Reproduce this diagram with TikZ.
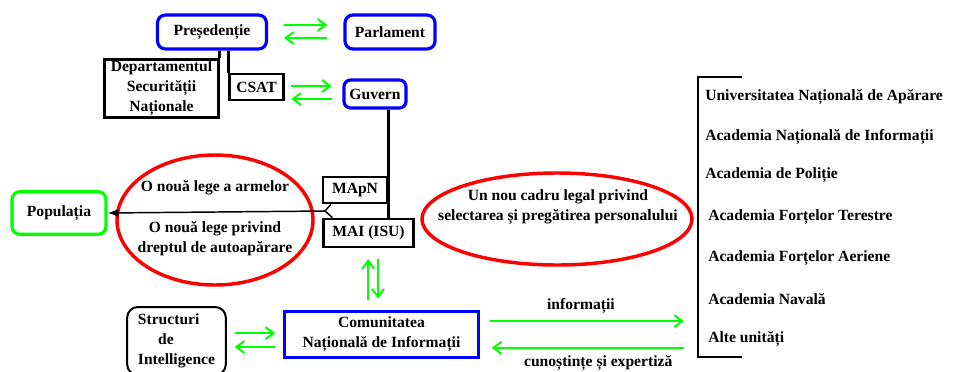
\documentclass[tikz,border=0pt]{standalone}
\usepackage{fontspec}
\setmainfont{Liberation Serif}
\usetikzlibrary{arrows.meta,shapes.geometric}
\tikzset{
	bluebox/.style={draw=blue,line width=2.4pt,rounded corners=6pt,inner sep=0pt},
	blackbox/.style={draw=black,line width=2.2pt,inner sep=0pt},
	redoval/.style={draw=red,line width=2.6pt,ellipse,inner sep=0pt},
	garrow/.style={draw=green,line width=1.5pt,-{Straight Barb[length=6pt,width=9pt]}},
	stem/.style={line width=2.2pt},
}
\begin{document}
\begin{tikzpicture}[x=0.75pt,y=-0.75pt,>={Latex[length=8pt,width=6pt]},
	every node/.style={font=\bfseries\fontsize{11.7}{15}\selectfont}]
	\useasboundingbox (0,0) rectangle (955,371);
	\clip (0,0) rectangle (955,371);
	% top row
	\node[bluebox,minimum width=81.75pt,minimum height=25.5pt] (pres) at (212,32) {Președenție};
	\node[bluebox,minimum width=67.5pt,minimum height=25.5pt] (parl) at (390,32) {Parlament};
	\node[bluebox,minimum width=46.5pt,minimum height=21pt,rounded corners=5pt] (guv) at (375,94) {Guvern};
	\node[blackbox,minimum width=40pt,minimum height=19.5pt] (csat) at (256.5,87) {CSAT};
	\node[blackbox,minimum width=85pt,minimum height=44pt,align=center] (dsn) at (161.5,88.5) {Departamentul\\Securității\\Naționale};
	\draw[garrow,shorten <=12pt,shorten >=12pt] ([yshift=5.25pt]pres.east) -- ([yshift=5.25pt]parl.west);
	\draw[garrow,shorten <=12pt,shorten >=12pt] ([yshift=-4.5pt]parl.west) -- ([yshift=-4.5pt]pres.east);
	\draw[garrow,shorten <=5pt,shorten >=8pt] ([yshift=0.75pt]csat.east) -- ([yshift=6pt]guv.west);
	\draw[garrow,shorten <=8pt,shorten >=5pt] ([yshift=-3.75pt]guv.west) -- ([yshift=-9pt]csat.east);
	\draw[stem] (dsn.north east) -- (dsn.north east |- pres.south);
	\draw[stem] (csat.north west) -- (csat.north west |- pres.south);
	% ministries
	\node[blackbox,minimum width=48pt,minimum height=19.5pt] (mapn) at (355,190) {MApN};
	\node[blackbox,minimum width=68pt,minimum height=21pt] (mai) at (368.5,233) {MAI (ISU)};
	\draw[stem] (mapn.east |- guv.south) -- (mapn.east |- mai.north);
	% population and laws
	\node[draw=green,line width=2.4pt,rounded corners=6pt,minimum width=70.5pt,minimum height=32pt] (pop) at (59,213) {Populația};
	\node[redoval,minimum width=147pt,minimum height=97.5pt] (legi) at (215,220) {};
	\node (arme) at (215,188) {O nouă lege a armelor};
	\node[align=center] (aparare) at (215,239) {O nouă lege privind\\dreptul de autoapărare};
	\coordinate (fork) at (325,211);
	\draw[line width=1.1pt] ([xshift=7pt]mapn.south west) -- (fork) -- ([xshift=8pt]mai.north west);
	\draw[line width=1.1pt,->] (fork) -- (pop.east);
	\node[redoval,minimum width=202.5pt,minimum height=69pt] (cadru) at (557,219) {};
	\node[align=center] (selectie) at (558,207.5) {Un nou cadru legal privind\\selectarea și pregătirea personalului};
	% intelligence community
	\node[bluebox,rounded corners=0pt,minimum width=145pt,minimum height=34.5pt,align=center] (cni) at (381.5,334.5) {Comunitatea\\Națională de Informații};
	\node[draw,line width=1.5pt,rounded corners=8pt,minimum width=74pt,minimum height=51pt,align=left,inner sep=0pt] (struct) at (176.5,341) {Structuri\\\hspace{1.3em}de\\Intelligence};
	\draw[garrow,shorten <=7.5pt,shorten >=8pt] ([xshift=-10pt]cni.north) -- ([xshift=-10pt]cni.north |- mai.south);
	\draw[garrow,shorten <=8pt,shorten >=8.5pt] ([xshift=-2.6pt]cni.north |- mai.south) -- ([xshift=-2.6pt]cni.north);
	\draw[garrow,shorten <=6pt,shorten >=6pt] ([yshift=1pt]cni.west -| struct.east) -- ([yshift=1pt]cni.west);
	\draw[garrow,shorten <=6pt,shorten >=6pt] ([yshift=-9.4pt]cni.west) -- ([yshift=-9.4pt]cni.west -| struct.east);
	% academies
	\coordinate (brtop) at (698,77);
	\coordinate (brbot) at (698,357);
	\draw[stem] ([xshift=33pt]brtop) -- (brtop) -- (brbot) -- ([xshift=33pt]brbot);
	\draw[garrow,shorten <=7.5pt,shorten >=10.5pt] ([yshift=10pt]cni.east) -- ([yshift=10pt]cni.east -| brtop)
		node[midway,above=2pt,xshift=-6pt] (info) {informații};
	\draw[garrow,shorten <=10.5pt,shorten >=9pt] ([yshift=-10pt]cni.east -| brtop) -- ([yshift=-10pt]cni.east)
		node[midway,below=2pt,xshift=7pt] (know) {cunoștințe și expertiză};
	\foreach \x/\y/\txt [count=\i] in {705/97/Universitatea Națională de Apărare,
		705/137/Academia Națională de Informații,705/175/Academia de Poliție,
		708/217/Academia Forțelor Terestre,708/258/Academia Forțelor Aeriene,
		708/299/Academia Navală,708/339/Alte unități}
		\node[anchor=west,inner sep=0pt] (acad\i) at (\x,\y) {\txt};
\end{tikzpicture}
\end{document}
